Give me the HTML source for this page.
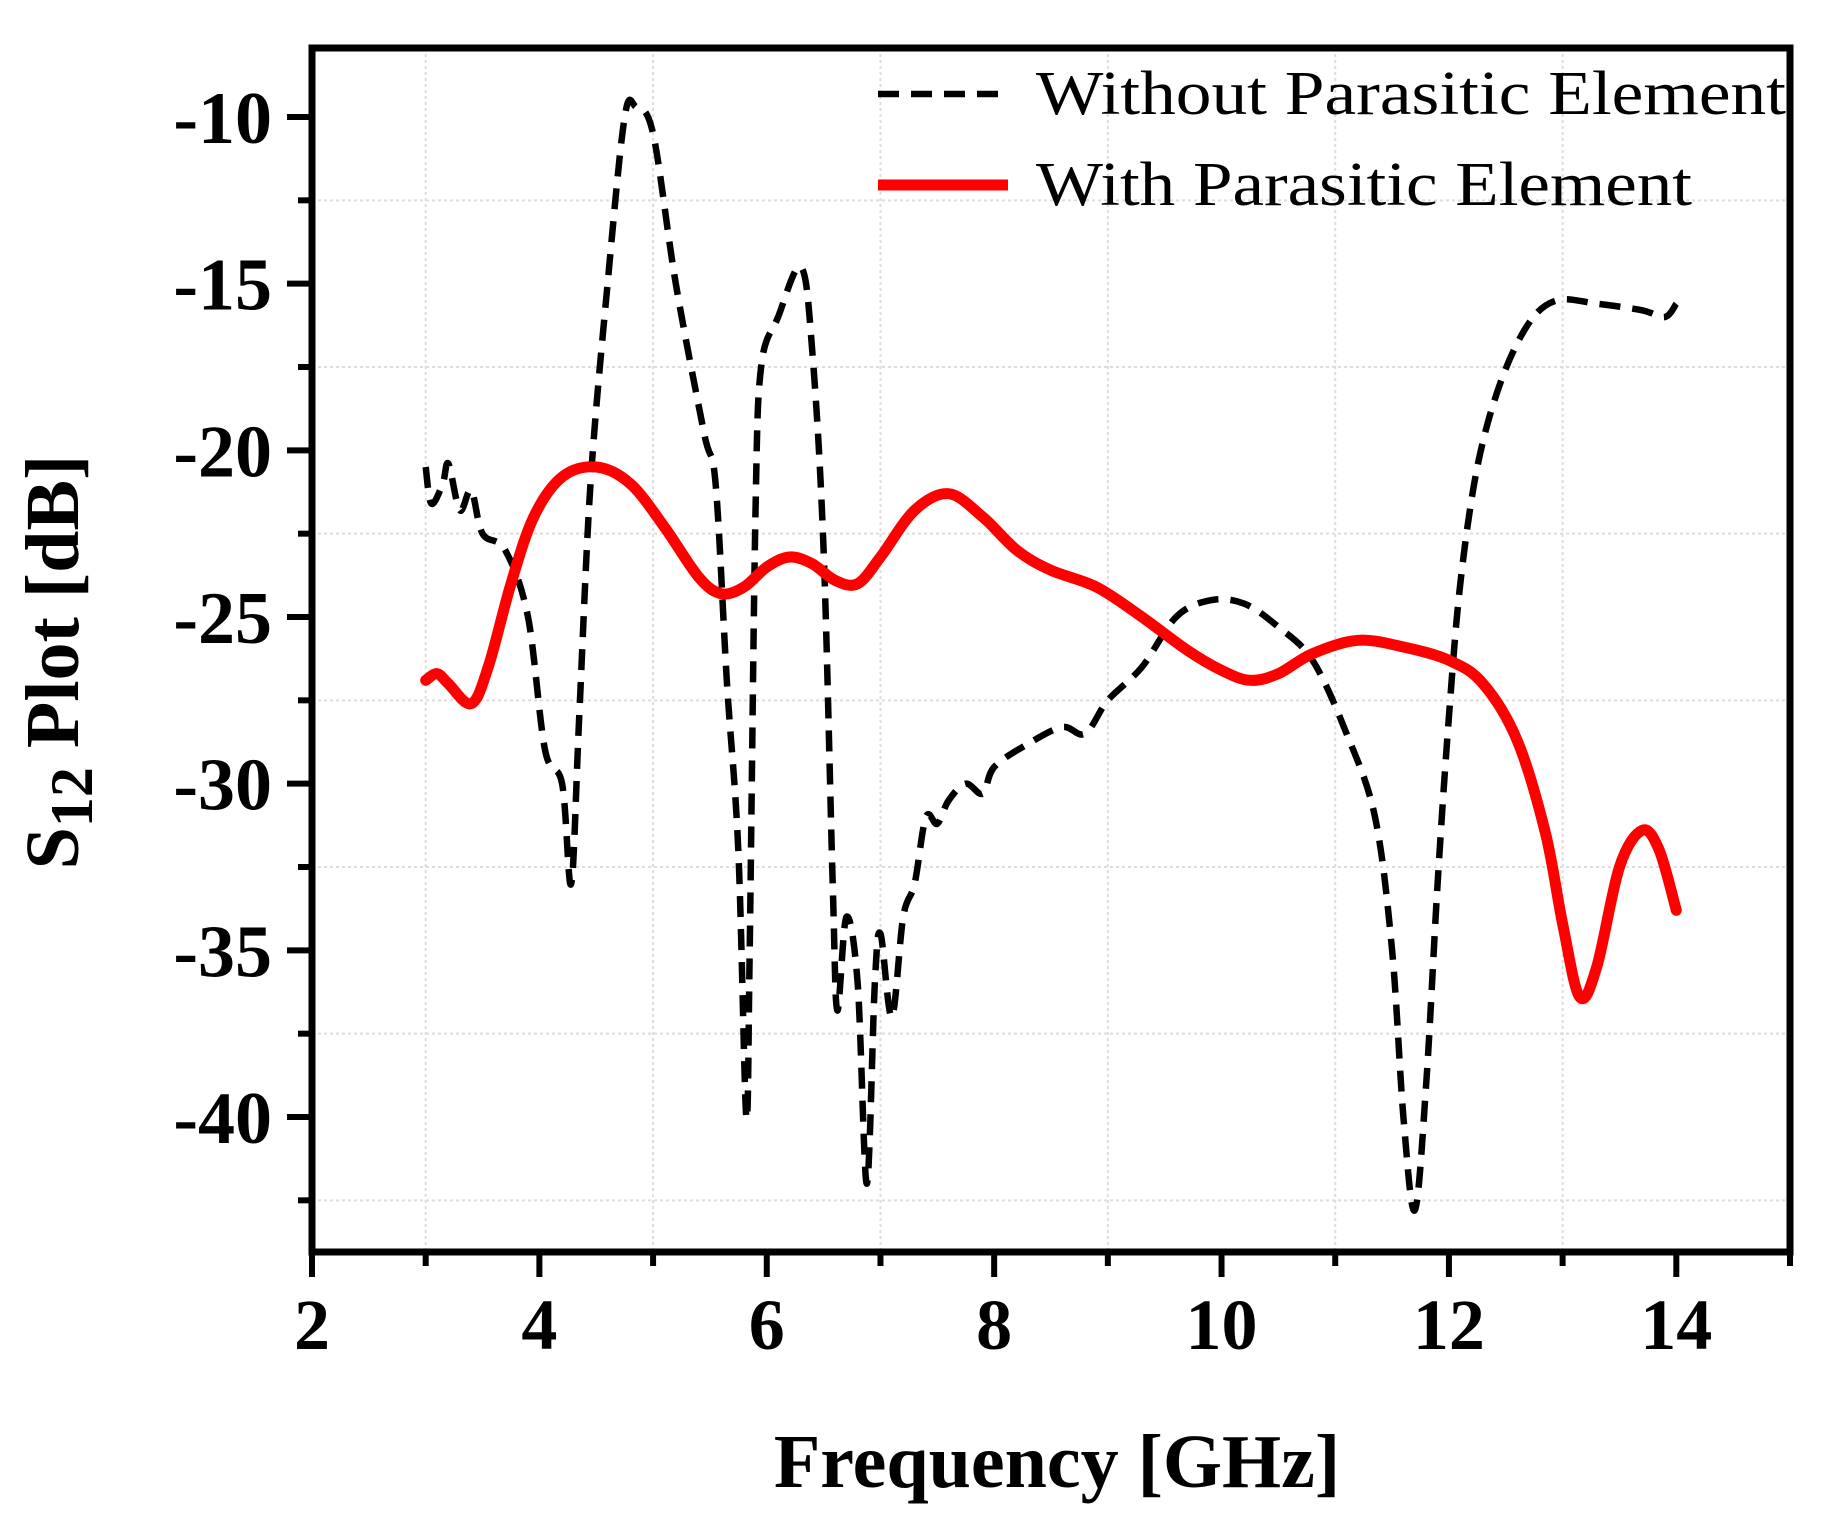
<!DOCTYPE html>
<html><head><meta charset="utf-8"><style>
html,body{margin:0;padding:0;background:#fff;}
svg{display:block;}
</style></head><body>
<svg id="chart" width="1827" height="1532" viewBox="0 0 1827 1532" xmlns="http://www.w3.org/2000/svg">
<rect width="1827" height="1532" fill="#fff"/>
<g id="grid"></g>
<g id="series"></g>
<g id="axes"></g>
<g>
  <line x1="878" y1="94" x2="1008" y2="94" stroke="#000" stroke-width="6.5" stroke-dasharray="21,12"/>
  <text x="1036" y="114" font-family="Liberation Serif, serif" font-size="62" textLength="750" lengthAdjust="spacingAndGlyphs">Without Parasitic Element</text>
  <line x1="878" y1="185" x2="1008" y2="185" stroke="#f00" stroke-width="11"/>
  <text x="1036" y="205" font-family="Liberation Serif, serif" font-size="62" textLength="656" lengthAdjust="spacingAndGlyphs">With Parasitic Element</text>
</g>
<text x="1057" y="1487" text-anchor="middle" font-family="Liberation Serif, serif" font-weight="bold" font-size="76">Frequency [GHz]</text>
<text transform="translate(78,662) rotate(-90)" text-anchor="middle" font-family="Liberation Serif, serif" font-weight="bold" font-size="76">S<tspan font-size="60" dy="14">12</tspan><tspan dy="-14"> Plot [dB]</tspan></text>
</svg>
<script>
const xWithout = [3.0,3.05,3.15,3.2,3.3,3.4,3.5,3.7,3.9,4.05,4.2,4.28,4.35,4.45,4.6,4.75,4.85,5.0,5.2,5.45,5.55,5.65,5.75,5.82,5.85,5.9,5.95,6.1,6.3,6.4,6.5,6.58,6.62,6.7,6.8,6.88,6.95,7.0,7.1,7.2,7.3,7.4,7.5,7.6,7.75,7.9,8.0,8.3,8.6,8.8,9.0,9.3,9.6,9.9,10.2,10.5,10.8,11.1,11.35,11.5,11.6,11.7,11.8,11.9,12.0,12.1,12.25,12.45,12.7,12.95,13.3,13.7,13.9,14.0];
const yWithout = [-20.5,-21.6,-21.0,-20.4,-21.8,-21.2,-22.5,-23.0,-25,-29,-30,-33,-28,-21,-15,-10,-9.7,-10.5,-15,-19.5,-21,-27,-32,-40,-35,-22,-17.5,-16,-14.5,-17,-23,-33,-36.8,-34,-36,-42,-36,-34.5,-37,-34,-33,-31,-31.2,-30.5,-30,-30.3,-29.5,-28.8,-28.3,-28.5,-27.5,-26.5,-25,-24.5,-24.6,-25.3,-26.3,-28.5,-31,-35,-40,-42.8,-39,-33,-28,-24,-20.5,-18,-16.2,-15.5,-15.6,-15.8,-16,-15.6];
const xWith = [3.0,3.1,3.2,3.4,3.55,3.75,3.95,4.2,4.5,4.8,5.1,5.4,5.6,5.8,6.0,6.2,6.4,6.6,6.8,7.0,7.3,7.6,7.9,8.2,8.5,8.9,9.3,9.7,10.0,10.25,10.5,10.8,11.2,11.6,12.0,12.3,12.6,12.85,13.0,13.15,13.3,13.5,13.7,13.85,14.0];
const yWith = [-26.9,-26.7,-27.0,-27.6,-26.5,-24,-22,-20.8,-20.5,-21,-22.3,-23.8,-24.3,-24.1,-23.5,-23.2,-23.4,-23.9,-24.0,-23.2,-21.8,-21.3,-22,-23,-23.6,-24.1,-25,-26.0,-26.6,-26.9,-26.7,-26.1,-25.7,-25.9,-26.3,-27.0,-28.7,-31.5,-34.2,-36.4,-35.5,-32.5,-31.4,-32,-33.8];
const xTicks = [2,4,6,8,10,12,14];
const xMinor = [3,5,7,9,11,13,15];
const yTicks = [-10,-15,-20,-25,-30,-35,-40];
const yMinor = [-12.5,-17.5,-22.5,-27.5,-32.5,-37.5,-42.5];

const X0=312, X1=1790, xmin=2, xmax=15;
const Y0=1252, Y1=48, ymin=-44.05, ymax=-7.93;
function sx(v){return X0+(v-xmin)/(xmax-xmin)*(X1-X0);}
function sy(v){return Y0-(v-ymin)/(ymax-ymin)*(Y0-Y1);}
const NS='http://www.w3.org/2000/svg';
function mk(tag,attrs,parent){const e=document.createElementNS(NS,tag);for(const k in attrs)e.setAttribute(k,attrs[k]);parent.appendChild(e);return e;}
function smooth(xs,ys){
  const p=xs.map((x,i)=>[sx(x),sy(ys[i])]);
  let d='M'+p[0][0].toFixed(1)+','+p[0][1].toFixed(1);
  for(let i=0;i<p.length-1;i++){
    const a=p[Math.max(0,i-1)],b=p[i],c=p[i+1],e=p[Math.min(p.length-1,i+2)];
    const c1=[b[0]+(c[0]-a[0])/6,b[1]+(c[1]-a[1])/6];
    const c2=[c[0]-(e[0]-b[0])/6,c[1]-(e[1]-b[1])/6];
    d+=' C'+c1[0].toFixed(1)+','+c1[1].toFixed(1)+' '+c2[0].toFixed(1)+','+c2[1].toFixed(1)+' '+c[0].toFixed(1)+','+c[1].toFixed(1);
  }
  return d;
}
const grid=document.getElementById('grid');
xMinor.forEach(v=>{if(v<xmax){const l=mk('line',{x1:sx(v),x2:sx(v),y1:Y1,y2:Y0,stroke:'#ddd','stroke-width':2,'stroke-dasharray':'3,3'},grid);

}});
yMinor.forEach(v=>{const l=mk('line',{x1:X0,x2:X1,y1:sy(v),y2:sy(v),stroke:'#ddd','stroke-width':2,'stroke-dasharray':'3,3'},grid);

});

const series=document.getElementById('series');
const p1=mk('path',{d:smooth(xWithout,yWithout),fill:'none',stroke:'#000','stroke-width':6.5,'stroke-dasharray':'21,12','stroke-linejoin':'round'},series);


const p2=mk('path',{d:smooth(xWith,yWith),fill:'none',stroke:'#f00','stroke-width':11,'stroke-linejoin':'round','stroke-linecap':'round'},series);



const axes=document.getElementById('axes');
const fr=mk('rect',{x:X0,y:Y1,width:X1-X0,height:Y0-Y1,fill:'none',stroke:'#000','stroke-width':7},axes);


xTicks.forEach(v=>{
  const t=mk('line',{x1:sx(v),x2:sx(v),y1:Y0,y2:Y0+25,stroke:'#000','stroke-width':6},axes);
  
  
  const tx=mk('text',{x:sx(v),y:1349,'text-anchor':'middle','font-family':'Liberation Serif, serif','font-weight':'bold','font-size':72},axes);
  tx.textContent=v;
  
  
});
xMinor.forEach(v=>{
  const t=mk('line',{x1:sx(v),x2:sx(v),y1:Y0,y2:Y0+14,stroke:'#000','stroke-width':6},axes);
  
  
});
yTicks.forEach(v=>{
  const t=mk('line',{x1:X0-25,x2:X0,y1:sy(v),y2:sy(v),stroke:'#000','stroke-width':6},axes);
  
  
  const tx=mk('text',{x:272,y:sy(v)+26,'text-anchor':'end','font-family':'Liberation Serif, serif','font-weight':'bold','font-size':74},axes);
  tx.textContent=v;
  
  
});
yMinor.forEach(v=>{
  const t=mk('line',{x1:X0-14,x2:X0,y1:sy(v),y2:sy(v),stroke:'#000','stroke-width':6},axes);
  
  
});
</script>
</body></html>
